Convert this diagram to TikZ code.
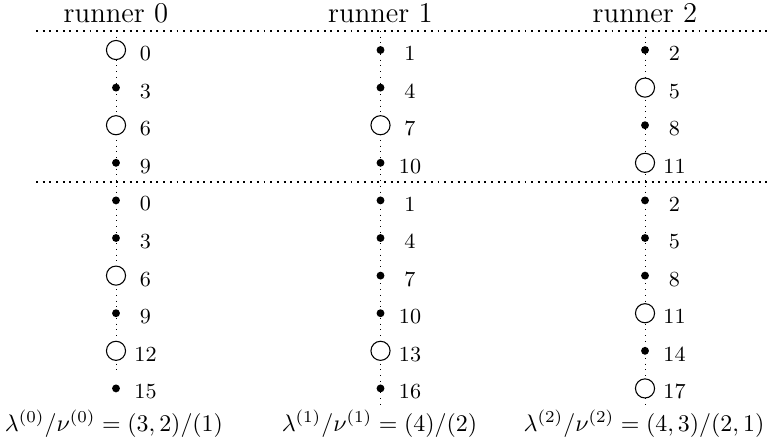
\documentclass[tikz,border=0pt]{standalone}
\begin{document}
\begin{tikzpicture}[x=0.4184pt,y=-0.4184pt,
  hole/.style={circle,draw,fill=white,line width=0.45pt,minimum size=8pt,inner sep=0pt},
  bead/.style={circle,fill=black,minimum size=3.3pt,inner sep=0pt},
  lab/.style={inner sep=0pt,font=\small},
  title/.style={anchor=base,font=\large,inner sep=0pt},
  hline/.style={line width=0.8pt,dash pattern=on 0.8pt off 2pt},
  vline/.style={line width=0.4pt,dotted}]
\useasboundingbox (0,0) rectangle (772,446);
% coordinates
\coordinate (hl1) at (36,31);  \coordinate (hr1) at (772,31);
\coordinate (hl2) at (36,181.6); \coordinate (hr2) at (772,181.6);
\coordinate (r0top) at (116,31);   \coordinate (r0bot) at (116,370);
\coordinate (r1top) at (380.5,31); \coordinate (r1bot) at (380.5,407);
\coordinate (r2top) at (645,31);   \coordinate (r2bot) at (645,407);
% lines
\draw[hline] (hl1) -- (hr1);
\draw[hline] (hl2) -- (hr2);
\draw[vline] (r0top) -- (r0bot);
\draw[vline] (r1top) -- (r1bot);
\draw[vline] (r2top) -- (r2bot);
% titles
\node[title] (t0) at (116,22) {runner 0};
\node[title] (t1) at (380.5,22) {runner 1};
\node[title] (t2) at (645,22) {runner 2};
% runner 0
\foreach \k/\n in {0/0,2/6,6/6,8/12}
  \node[hole] (r0k\k) at (116,{50+37.6*\k}) {};
\foreach \k/\n in {1/3,3/9,4/0,5/3,7/9,9/15}
  \node[bead] (r0k\k) at (116,{50+37.6*\k}) {};
\foreach \k/\n in {0/0,1/3,2/6,3/9,4/0,5/3,6/6,7/9,8/12,9/15}
  \node[lab] (r0n\k) at (145.5,{53.5+37.6*\k}) {\n};
% runner 1
\foreach \k/\n in {2/7,8/13}
  \node[hole] (r1k\k) at (380.5,{50+37.6*\k}) {};
\foreach \k/\n in {0/1,1/4,3/10,4/1,5/4,6/7,7/10,9/16}
  \node[bead] (r1k\k) at (380.5,{50+37.6*\k}) {};
\foreach \k/\n in {0/1,1/4,2/7,3/10,4/1,5/4,6/7,7/10,8/13,9/16}
  \node[lab] (r1n\k) at (410,{53.5+37.6*\k}) {\n};
% runner 2
\foreach \k/\n in {1/5,3/11,7/11,9/17}
  \node[hole] (r2k\k) at (645,{50+37.6*\k}) {};
\foreach \k/\n in {0/2,2/8,4/2,5/5,6/8,8/14}
  \node[bead] (r2k\k) at (645,{50+37.6*\k}) {};
\foreach \k/\n in {0/2,1/5,2/8,3/11,4/2,5/5,6/8,7/11,8/14,9/17}
  \node[lab] (r2n\k) at (674.5,{53.5+37.6*\k}) {\n};
% bottom labels
\node[inner sep=0pt] (p0) at (114,424) {$\lambda^{(0)}/\nu^{(0)}=(3,2)/(1)$};
\node[inner sep=0pt] (p1) at (379.5,424) {$\lambda^{(1)}/\nu^{(1)}=(4)/(2)$};
\node[inner sep=0pt] (p2) at (644,424) {$\lambda^{(2)}/\nu^{(2)}=(4,3)/(2,1)$};
\end{tikzpicture}
\end{document}
